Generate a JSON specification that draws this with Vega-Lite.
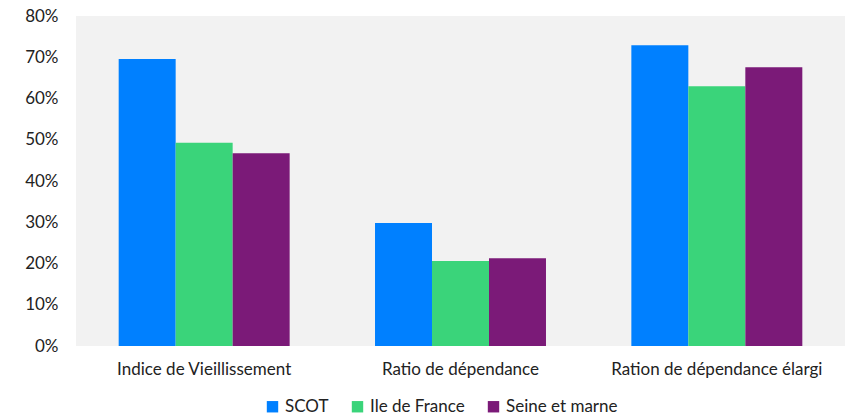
{
  "$schema": "https://vega.github.io/schema/vega-lite/v6.json",
  "width": 769,
  "height": 330,
  "autosize": "none",
  "padding": {"left": 76, "top": 16, "right": 5, "bottom": 71},
  "background": "white",
  "config": {
    "view": {"fill": "#F2F2F2", "stroke": null},
    "font": "Lato",
    "axis": {"labelFont": "Lato", "labelColor": "#222222", "labelFontSize": 17, "grid": false, "domain": false, "ticks": false, "title": null, "labelOverlap": false, "labelLimit": 0}
  },
  "data": {
    "values": [
      {"cat": "Indice de Vieillissement", "serie": "SCOT", "v": 0.696},
      {"cat": "Indice de Vieillissement", "serie": "Ile de France", "v": 0.493},
      {"cat": "Indice de Vieillissement", "serie": "Seine et marne", "v": 0.467},
      {"cat": "Ratio de dépendance", "serie": "SCOT", "v": 0.298},
      {"cat": "Ratio de dépendance", "serie": "Ile de France", "v": 0.206},
      {"cat": "Ratio de dépendance", "serie": "Seine et marne", "v": 0.213},
      {"cat": "Ration de dépendance élargi", "serie": "SCOT", "v": 0.729},
      {"cat": "Ration de dépendance élargi", "serie": "Ile de France", "v": 0.630},
      {"cat": "Ration de dépendance élargi", "serie": "Seine et marne", "v": 0.676}
    ]
  },
  "mark": {"type": "bar"},
  "encoding": {
    "x": {
      "field": "cat", "type": "nominal", "sort": null,
      "scale": {"paddingInner": 0.333, "paddingOuter": 0.1665},
      "axis": {"labelAngle": 0, "labelPadding": 15}
    },
    "xOffset": {"field": "serie", "type": "nominal", "sort": ["SCOT", "Ile de France", "Seine et marne"], "scale": {"paddingInner": 0, "paddingOuter": 0}},
    "y": {
      "field": "v", "type": "quantitative",
      "scale": {"domain": [0, 0.8], "nice": false},
      "axis": {"format": ".0%", "values": [0, 0.1, 0.2, 0.3, 0.4, 0.5, 0.6, 0.7, 0.8], "labelPadding": 18}
    },
    "color": {
      "field": "serie", "type": "nominal",
      "sort": ["SCOT", "Ile de France", "Seine et marne"],
      "scale": {"domain": ["SCOT", "Ile de France", "Seine et marne"], "range": ["#0080FF", "#3AD47A", "#7B1A78"]},
      "legend": {
        "orient": "none", "direction": "horizontal", "title": null,
        "legendX": 188, "legendY": 382,
        "symbolType": "square", "symbolSize": 130, "symbolStrokeWidth": 0,
        "labelFont": "Lato", "labelFontSize": 17, "labelColor": "#222222",
        "columnPadding": 20, "labelOffset": 4, "labelLimit": 0
      }
    }
  }
}
